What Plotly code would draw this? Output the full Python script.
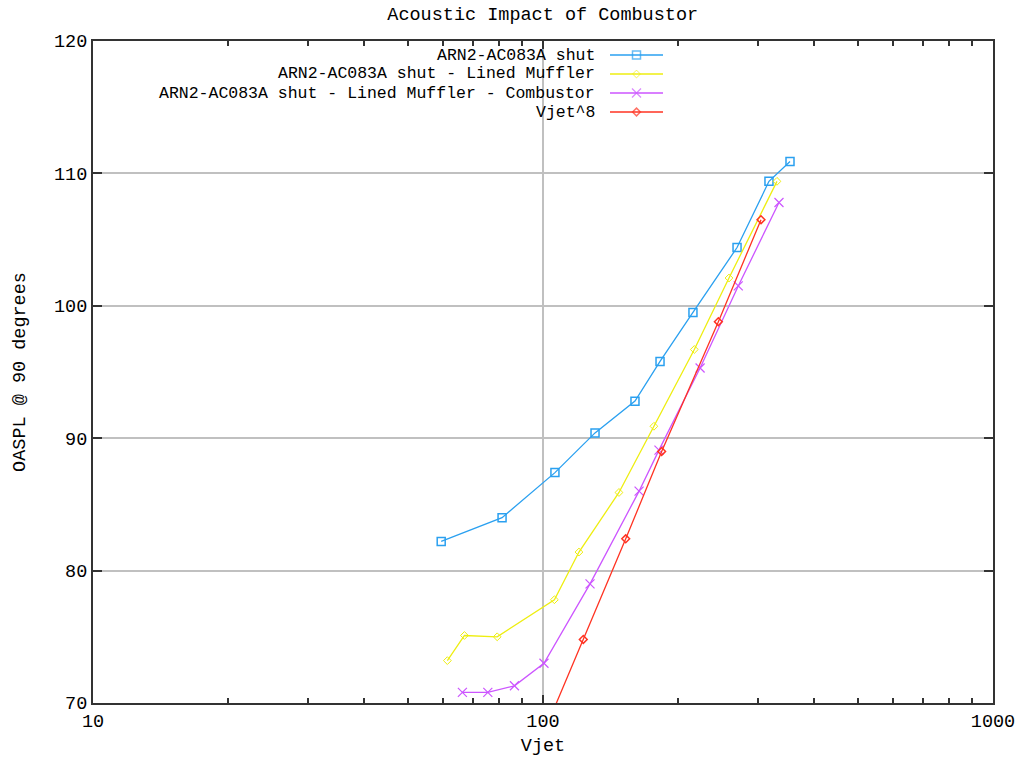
import plotly.graph_objects as go

# ---- data ----
series_names = [
    "ARN2-AC083A shut",
    "ARN2-AC083A shut - Lined Muffler",
    "ARN2-AC083A shut - Lined Muffler - Combustor",
    "Vjet^8",
]
shut_x = [59.4, 81.1, 106.3, 130.5, 160.1, 182.0, 215.4, 269.9, 317.8, 353.9]
shut_y = [82.2, 84.0, 87.4, 90.4, 92.8, 95.8, 99.5, 104.4, 109.4, 110.9]
muffler_x = [61.3, 66.9, 79.1, 106.0, 120.2, 147.5, 176.4, 216.9, 259.0, 331.1]
muffler_y = [73.2, 75.1, 75.0, 77.8, 81.4, 85.9, 90.9, 96.7, 102.1, 109.4]
combustor_x = [66.2, 75.4, 86.4, 100.5, 127.2, 163.5, 181.0, 223.4, 271.6, 334.5]
combustor_y = [70.8, 70.8, 71.3, 73.0, 79.0, 86.0, 89.1, 95.3, 101.5, 107.8]
vjet8_x = [100.0, 122.9, 152.7, 183.5, 245.3, 305.1]
vjet8_y = [67.6, 74.8, 82.4, 89.0, 98.8, 106.5]

x_tickvals = [10, 100, 1000]
x_ticktext = ["10", "100", "1000"]
y_tickvals = [70, 80, 90, 100, 110, 120]

# ---- styles ----
FONT = "Liberation Mono"
FS = 18.5
KEY_FS = 16.5
colors = ["#2AA0F0", "#EEEE10", "#CC55FF", "#FF3322"]
markers = [
    dict(symbol="square-open", size=8, line=dict(width=1.5)),
    dict(symbol="diamond-open", size=6, line=dict(width=1)),
    dict(symbol="x-thin-open", size=9, line=dict(width=1.2)),
    dict(symbol="diamond-open", size=6, line=dict(width=1.5)),
]

fig = go.Figure()
data = [(shut_x, shut_y), (muffler_x, muffler_y), (combustor_x, combustor_y), (vjet8_x, vjet8_y)]
for (xs, ys), name, c, m in zip(data, series_names, colors, markers):
    mk = dict(m)
    mk["color"] = c
    mk["line"] = dict(m["line"], color=c)
    fig.add_trace(go.Scatter(
        x=xs, y=ys, name=name, mode="lines+markers",
        line=dict(color=c, width=1.3), marker=mk, showlegend=False,
        cliponaxis=True,
    ))

# ---- gnuplot-style key (text left of sample) ----
L, R, T, B = 93, 993, 41, 703
W, H = R - L, B - T
def px(xp):
    return (xp - L) / W
def py(yp):
    return (B - yp) / H

row_y = [55, 74, 93, 112]
for name, c, m, yr in zip(series_names, colors, markers, row_y):
    fig.add_annotation(
        x=px(597), y=py(yr), xref="paper", yref="paper",
        text=name, showarrow=False, xanchor="right", yanchor="middle",
        font=dict(family=FONT, size=KEY_FS, color="black"),
    )
    mk = dict(m)
    mk["color"] = c
    mk["line"] = dict(m["line"], color=c)
    mk["size"] = [0, m["size"], 0]
    fig.add_trace(go.Scatter(
        x=[px(610), px(636.5), px(663)], y=[py(yr)] * 3,
        xaxis="x2", yaxis="y2", mode="lines+markers",
        line=dict(color=c, width=1.3), marker=mk, showlegend=False,
        hoverinfo="skip",
    ))

fig.update_layout(
    width=1024, height=757,
    margin=dict(l=L, r=1024 - R, t=T, b=757 - B),
    paper_bgcolor="white", plot_bgcolor="white",
    font=dict(family=FONT, size=FS, color="black"),
    title=dict(text="Acoustic Impact of Combustor", x=0.53, xanchor="center",
               y=1 - 14 / 757, yanchor="middle",
               font=dict(family=FONT, size=FS, color="black")),
    xaxis=dict(
        type="log", range=[1, 3], automargin=False,
        tickvals=x_tickvals, ticktext=x_ticktext,
        ticks="inside", ticklen=8, tickwidth=1.5, tickcolor="#333333",
        showline=True, linecolor="#333333", linewidth=2, mirror="ticks",
        showgrid=True, gridcolor="#C0C0C0", gridwidth=2,
        zeroline=False,
        minor=dict(ticks="inside", ticklen=5, tickwidth=1.5, tickcolor="#333333",
                   dtick="D1", showgrid=False),
        title=dict(text="Vjet", standoff=8, font=dict(family=FONT, size=FS)),
        tickfont=dict(family=FONT, size=FS),
    ),
    yaxis=dict(
        range=[70, 120], tickvals=y_tickvals, automargin=False,
        ticks="inside", ticklen=9, tickwidth=1.5, tickcolor="#333333",
        showline=True, linecolor="#333333", linewidth=2, mirror="ticks",
        showgrid=True, gridcolor="#C0C0C0", gridwidth=2,
        zeroline=False,
        title=dict(text="OASPL @ 90 degrees", standoff=24, font=dict(family=FONT, size=FS)),
        tickfont=dict(family=FONT, size=FS),
    ),
    xaxis2=dict(overlaying="x", range=[0, 1], visible=False, fixedrange=True),
    yaxis2=dict(overlaying="y", range=[0, 1], visible=False, fixedrange=True),
)

fig.write_html("out.html")
